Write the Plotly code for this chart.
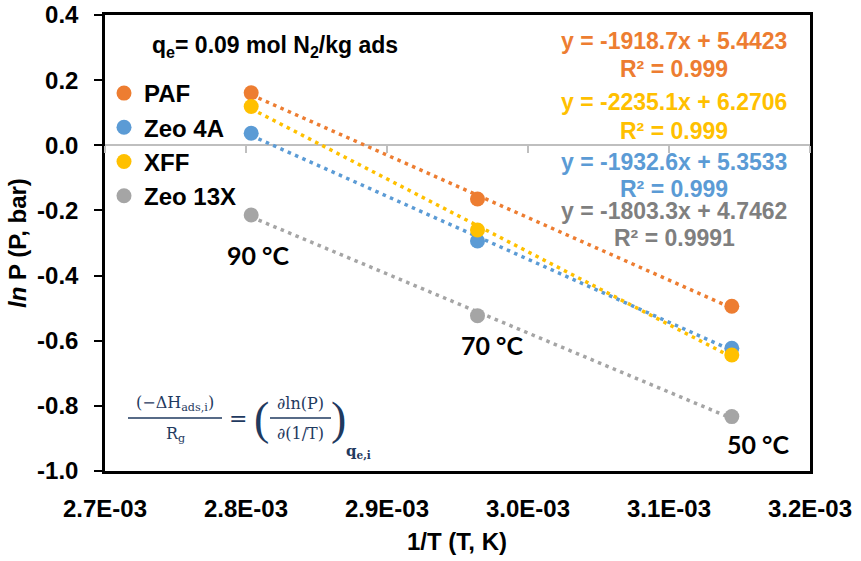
import numpy as np
import plotly.graph_objects as go

# ---------------- data ----------------
temps_c = [90, 70, 50]
inv_T = [1.0 / (t + 273.15) for t in temps_c]
temp_labels = ["90 °C", "70 °C", "50 °C"]

series_names = ["PAF", "Zeo 4A", "XFF", "Zeo 13X"]
paf = [0.161, -0.165, -0.494]
zeo4a = [0.037, -0.294, -0.623]
xff = [0.119, -0.260, -0.644]
zeo13x = [-0.214, -0.523, -0.833]

eq_texts = ["y = -1918.7x + 5.4423", "y = -1932.6x + 5.3533",
            "y = -2235.1x + 6.2706", "y = -1803.3x + 4.7462"]
r2_texts = ["R² = 0.999", "R² = 0.999", "R² = 0.999", "R² = 0.9991"]

x_tickvals = [0.00265, 0.00275, 0.00285, 0.00295, 0.00305, 0.00315]
x_ticktext = ["2.7E-03", "2.8E-03", "2.9E-03", "3.0E-03", "3.1E-03", "3.2E-03"]
y_tickvals = [0.4, 0.2, 0.0, -0.2, -0.4, -0.6, -0.8, -1.0]
y_ticktext = ["0.4", "0.2", "0.0", "-0.2", "-0.4", "-0.6", "-0.8", "-1.0"]

# ---------------- style ----------------
colors = ["#ED7D31", "#5B9BD5", "#FFC000", "#A5A5A5"]
eq_colors = ["#ED7D31", "#5B9BD5", "#FFC000", "#7F7F7F"]
W, H = 861, 561
L, R, T, B = 105, 51, 15, 90
PW, PH = W - L - R, H - T - B
ARIAL = "Liberation Sans, Arial"
NAVY = "#1F3A5F"


def px(xp):
    return (xp - L) / PW


def py(yp):
    return (H - B - yp) / PH


def bold(s):
    return "<b>" + s + "</b>"


fig = go.Figure()
all_y = [paf, zeo4a, xff, zeo13x]

# trendlines (least-squares fits of each series)
for name, ys, c in zip(series_names, all_y, colors):
    k, b0 = np.polyfit(inv_T, ys, 1)
    xs = [min(inv_T), max(inv_T)]
    fig.add_trace(go.Scatter(x=xs, y=[k * v + b0 for v in xs], mode="lines",
                             line=dict(color=c, width=3.5, dash="3.5px,4.5px"),
                             showlegend=False, hoverinfo="skip"))

# markers
for name, ys, c in zip(series_names, all_y, colors):
    fig.add_trace(go.Scatter(x=inv_T, y=ys, mode="markers", name=bold(name),
                             marker=dict(color=c, size=15), legendgroup=name))

# invisible trace carrying the zero-line tick axis
fig.add_trace(go.Scatter(x=x_tickvals, y=[0] * len(x_tickvals), xaxis="x2", yaxis="y",
                         mode="markers", marker=dict(opacity=0), showlegend=False,
                         hoverinfo="skip"))

tick_font = dict(family=ARIAL, size=24, color="black")

fig.update_layout(
    width=W, height=H,
    margin=dict(l=L, r=R, t=T, b=B, autoexpand=False),
    paper_bgcolor="white", plot_bgcolor="white",
    xaxis=dict(range=[x_tickvals[0], x_tickvals[-1]], tickvals=x_tickvals,
               ticktext=[bold(t) for t in x_ticktext], automargin=False,
               ticks="", showline=True, linecolor="black", linewidth=2.5, mirror=True,
               showgrid=False, zeroline=False, ticklabelstandoff=14, tickfont=tick_font),
    xaxis2=dict(range=[x_tickvals[0], x_tickvals[-1]], tickvals=x_tickvals, overlaying="x",
                anchor="free", position=1.0 / 1.4, side="bottom", ticks="outside",
                ticklen=7, tickwidth=1.5, tickcolor="#BFBFBF", showticklabels=False,
                showline=False, showgrid=False, zeroline=False, automargin=False),
    yaxis=dict(range=[-1.0, 0.4], tickvals=y_tickvals, ticktext=[bold(t) for t in y_ticktext],
               ticks="outside", automargin=False,
               ticklen=8, tickwidth=1.5, tickcolor="black", showline=True, linecolor="black",
               linewidth=2.5, mirror=True, showgrid=False, zeroline=True,
               zerolinecolor="#BFBFBF", zerolinewidth=2, ticklabelstandoff=11,
               tickfont=tick_font),
    legend=dict(x=px(104), y=py(71), xanchor="left", yanchor="top", bgcolor="rgba(0,0,0,0)",
                font=dict(family=ARIAL, size=24, color="black"),
                tracegroupgap=0, itemwidth=30),
    showlegend=True,
)

ann = []


def add_text(text, xp, yp, size=24, color="black", family=ARIAL, angle=0,
             xanchor="center"):
    ann.append(dict(text=text, x=px(xp), y=py(yp), xref="paper", yref="paper",
                    xanchor=xanchor, yanchor="middle", showarrow=False, textangle=angle,
                    font=dict(family=family, size=size, color=color)))


# axis titles
add_text(bold("<i>ln</i> P (P, bar)"), 17, 243, angle=-90)
add_text(bold("1/T (T, K)"), 457, 541)

# q_e note
add_text(bold("q<sub>e</sub>= 0.09 mol N<sub>2</sub>/kg ads"), 275, 46, size=23)

# equations (order in picture: PAF, XFF, Zeo 4A, Zeo 13X)
eq_pos = [(0, 41, 69), (2, 102, 131), (1, 162, 189), (3, 211, 238)]
for idx, ye, yr in eq_pos:
    add_text(bold(eq_texts[idx]), 674, ye, size=23, color=eq_colors[idx])
    add_text(bold(r2_texts[idx]), 674, yr, size=23, color=eq_colors[idx])

# temperature labels
for lab, (xp_, yp_) in zip(temp_labels, [(258, 255), (492, 345), (758, 444)]):
    add_text(bold(lab), xp_, yp_, size=25, family="Lato, Open Sans")

# formula
SER = "DejaVu Serif, Liberation Serif"
add_text("(−ΔH<sub>ads,i</sub>)", 175, 403, size=16, color=NAVY, family=SER)
add_text("R<sub>g</sub>", 175, 434, size=16, color=NAVY, family=SER)
add_text("=", 238, 418, size=22, color=NAVY, family=SER)
add_text("(", 261, 418, size=46, color=NAVY, family="Liberation Serif")
add_text("∂ln(P)", 300, 403, size=16, color=NAVY, family=SER)
add_text("∂(1/T)", 300, 433, size=16, color=NAVY, family=SER)
add_text(")", 338, 418, size=46, color=NAVY, family="Liberation Serif")
add_text(bold("q<sub>e,i</sub>"), 344, 451, size=15, color=NAVY, family=SER, xanchor="left")

fig.update_layout(annotations=ann)

fig.add_shape(type="line", xref="paper", yref="paper", x0=px(128), x1=px(222), y0=py(418),
              y1=py(418), line=dict(color=NAVY, width=1.3))
fig.add_shape(type="line", xref="paper", yref="paper", x0=px(270), x1=px(331), y0=py(418),
              y1=py(418), line=dict(color=NAVY, width=1.3))

fig.write_html("out.html")
